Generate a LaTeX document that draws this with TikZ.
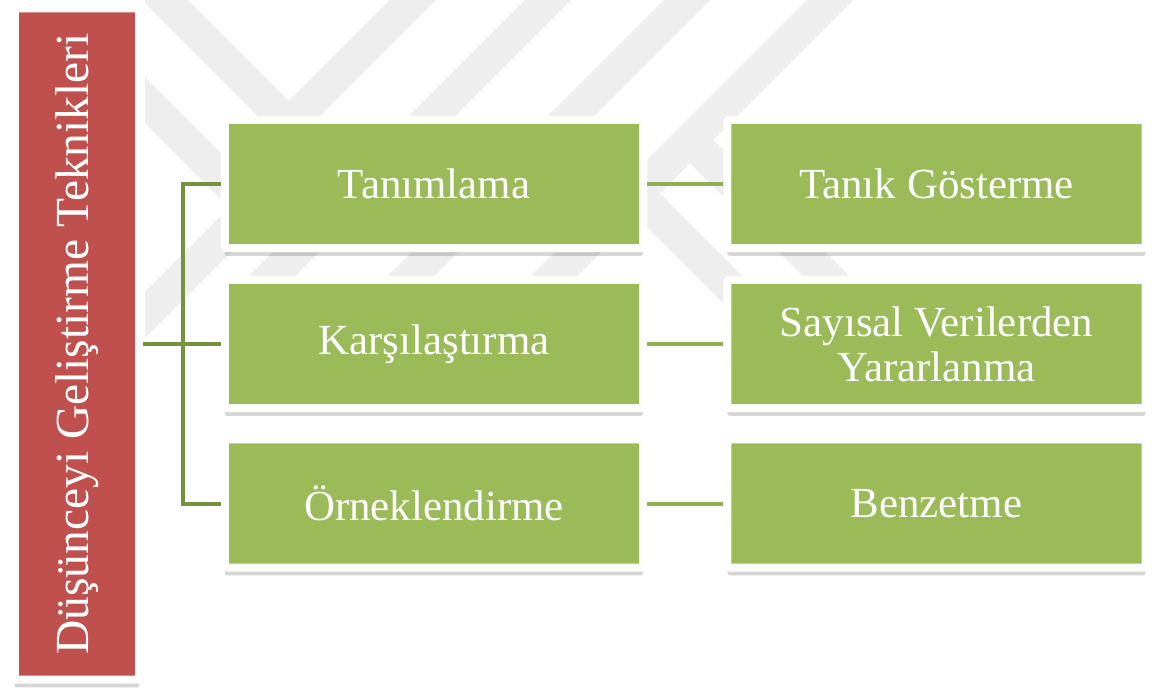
\documentclass[tikz,border=0pt]{standalone}
\usepackage{fontspec}
\setmainfont{Liberation Serif}
\usepackage{graphicx}
\usepackage{tikz}
\usetikzlibrary{shadows}
\definecolor{leaf}{HTML}{9BBB59}
\definecolor{root}{HTML}{C0504D}
\definecolor{branch}{HTML}{76923C}
\definecolor{twig}{HTML}{8EB054}
\definecolor{wmgray}{HTML}{EEEEEE}
\tikzset{
  topicBox/.style={fill=leaf, draw=white, line width=0.08cm, rounded corners=0.6pt,
    drop shadow={shadow xshift=0pt, shadow yshift=-2.2pt, opacity=0.16, fill=black},
    minimum width=4.18cm, minimum height=1.28cm, inner sep=0pt,
    text=white, align=center, font=\fontsize{12.2}{12.8}\selectfont},
  rootBox/.style={topicBox, fill=root, minimum width=1.24cm, minimum height=6.71cm,
    font=\fontsize{13.5}{14}\selectfont},
  treeLine/.style={draw=branch, line width=0.04cm},
  pairLine/.style={draw=twig, line width=0.04cm},
  wmBand/.style={draw=wmgray, line width=0.33cm}
}

\begin{document}
\begin{tikzpicture}[x=0.01cm, y=-0.01cm]
  \useasboundingbox (0,0) rectangle (1155,688);

  % watermark stripes
  \begin{scope}
    \clip (145,0) rectangle (1000,340);
    \draw[wmBand] (120,-45) -- (310,145);
    \draw[wmBand] (458,-45) -- (268,145);
    \draw[wmBand] (593,-45) -- (248,300);
    \draw[wmBand] (732,-45) -- (387,300);
    \draw[wmBand] (875,-45) -- (530,300);
    \draw[wmBand] (690,140) -- (900,350);
    \draw[wmBand] (600,157) -- (740,297);
    \draw[wmBand] (120,75) -- (240,195);
    \draw[wmBand] (260,200) -- (120,340);
  \end{scope}

  \node[rootBox] (root) at (77,344) {\rotatebox{90}{Düşünceyi Geliştirme Teknikleri}};

  \node[topicBox] (tan) at (434,184) {Tanımlama};
  \node[topicBox] (kar) at (434,344) {Karşılaştırma};
  \node[topicBox] (orn) at (434,503.5) {Örneklendirme};

  \node[topicBox] (tanik) at (936.5,184) {Tanık Gösterme};
  \node[topicBox] (sayi) at (936.5,344) {Sayısal Verilerden\\Yararlanma};
  \node[topicBox] (benz) at (936.5,503.5) {Benzetme};

  \coordinate (trunk) at (183,344);
  \draw[treeLine] (root.east) -- (kar.west);
  \draw[treeLine] (tan.west) -| (trunk |- orn.west) -- (orn.west);

  \draw[pairLine] (tan.east) -- (tanik.west);
  \draw[pairLine] (kar.east) -- (sayi.west);
  \draw[pairLine] (orn.east) -- (benz.west);
\end{tikzpicture}
\end{document}
